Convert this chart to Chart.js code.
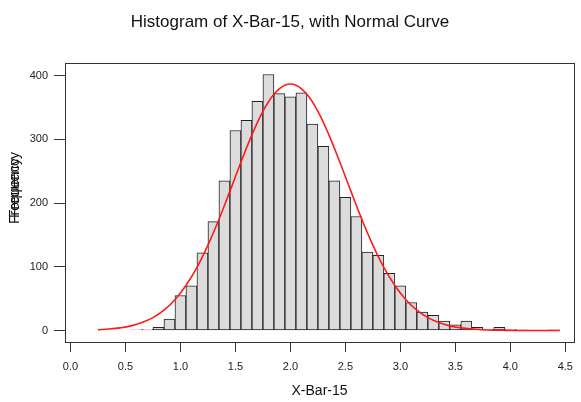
<!DOCTYPE html>
<html>
<head>
<meta charset="utf-8">
<script src="https://cdn.jsdelivr.net/npm/chart.js@4/dist/chart.umd.min.js"></script>
<style>
  html, body { margin: 0; padding: 0; background: #fff; }
  #wrap { width: 581px; height: 402px; }
</style>
</head>
<body>
<div id="wrap"><canvas id="hist"></canvas></div>
<script>
// bin centres (width 0.1) and counts
const binMids = [0.3, 0.4, 0.5, 0.6, 0.7, 0.8, 0.9, 1.0, 1.1, 1.2, 1.3, 1.4, 1.5, 1.6,
  1.7, 1.8, 1.9, 2.0, 2.1, 2.2, 2.3, 2.4, 2.5, 2.6, 2.7, 2.8, 2.9, 3.0, 3.1, 3.2,
  3.3, 3.4, 3.5, 3.6, 3.7, 3.8, 3.9, 4.0, 4.1, 4.2, 4.3, 4.4];
const counts = [0, 0, 0, 1, 2, 5, 18, 55, 70, 122, 171, 235, 314, 330,
  360, 402, 372, 367, 373, 324, 289, 235, 209, 179, 123, 118, 90, 70, 44, 29,
  24, 15, 9, 15, 5, 2, 5, 2, 1, 0, 0, 1];

// fitted normal curve, scaled to counts
const curveX = [0.25, 0.35, 0.45, 0.55, 0.65, 0.75, 0.85, 0.95, 1.05, 1.15, 1.25,
  1.35, 1.45, 1.55, 1.65, 1.75, 1.85, 1.95, 2.05, 2.15, 2.25, 2.35, 2.45, 2.55,
  2.65, 2.75, 2.85, 2.95, 3.05, 3.15, 3.25, 3.35, 3.45, 3.55, 3.65, 3.75, 3.85,
  3.95, 4.05, 4.15, 4.25, 4.35, 4.45];
const curveY = [1.2, 2.3, 4.2, 7.3, 12.5, 20.3, 32.0, 48.4, 70.6, 99.1, 134.1,
  174.5, 218.8, 264.2, 307.2, 344.0, 370.9, 385.2, 385.2, 370.9, 344.0, 307.2, 264.2, 218.8,
  174.5, 134.1, 99.1, 70.6, 48.4, 32.0, 20.3, 12.5, 7.3, 4.2, 2.3, 1.2, 0.6,
  0.3, 0.1, 0.1, 0, 0, 0];

const xTicks = [0, 0.5, 1, 1.5, 2, 2.5, 3, 3.5, 4, 4.5];
const yTicks = [0, 100, 200, 300, 400];

const FONT = "'Liberation Sans', Arial, sans-serif";

const frameAndLabels = {
  id: "frameAndLabels",
  afterDraw(chart) {
    const { ctx, chartArea: a } = chart;
    ctx.save();
    ctx.strokeStyle = "#333";
    ctx.lineWidth = 1;
    ctx.strokeRect(Math.round(a.left) + 0.5, Math.round(a.top) + 0.5,
      Math.round(a.right - a.left), Math.round(a.bottom - a.top));

    ctx.fillStyle = "#111";
    ctx.textAlign = "center";
    ctx.textBaseline = "alphabetic";
    ctx.font = "17px " + FONT;
    ctx.fillText("Histogram of X-Bar-15, with Normal Curve", 290, 27);

    ctx.font = "14px " + FONT;
    ctx.fillText("X-Bar-15", (a.left + a.right) / 2, 395);

    // y label is printed twice, slightly shifted
    ctx.translate(19, 188);
    ctx.rotate(-Math.PI / 2);
    ctx.fillText("Frequency", -3, 0);
    ctx.fillText("Frequency", 3, 0);
    ctx.restore();
  }
};

new Chart(document.getElementById("hist"), {
  type: "bar",
  data: {
    datasets: [{
      type: "line",
      label: "Normal",
      data: curveX.map((x, i) => ({ x: x, y: curveY[i] })),
      borderColor: "#ff1a1a",
      borderWidth: 1.6,
      pointRadius: 0,
      tension: 0.4,
      fill: false
    }, {
      label: "Frequency",
      data: binMids.map((x, i) => ({ x: x, y: counts[i] })),
      backgroundColor: "#dcdcdc",
      borderColor: "#222",
      borderWidth: 1,
      borderSkipped: false,
      barPercentage: 1,
      categoryPercentage: 1,
      grouped: false
    }]
  },
  options: {
    responsive: true,
    maintainAspectRatio: false,
    animation: false,
    layout: { padding: { top: 63, right: 4, left: 0, bottom: 0 } },
    plugins: {
      legend: { display: false },
      tooltip: { enabled: false },
      title: { display: false }
    },
    scales: {
      x: {
        type: "linear",
        min: -0.05,
        max: 4.58,
        offset: false,
        afterBuildTicks: s => { s.ticks = xTicks.map(v => ({ value: v })); },
        afterFit: s => { s.height = 60; },
        grid: { offset: false, drawOnChartArea: false, drawTicks: true, tickLength: 10, color: "#333" },
        border: { display: true, color: "#333" },
        ticks: {
          padding: 8,
          color: "#222",
          font: { family: FONT, size: 11 },
          maxRotation: 0,
          callback: v => v.toFixed(1)
        }
      },
      y: {
        type: "linear",
        min: -18,
        max: 420,
        afterBuildTicks: s => { s.ticks = yTicks.map(v => ({ value: v })); },
        afterFit: s => { s.width = 65; },
        grid: { drawOnChartArea: false, drawTicks: true, tickLength: 11, color: "#333" },
        border: { display: true, color: "#333" },
        ticks: {
          padding: 6,
          color: "#222",
          font: { family: FONT, size: 11 }
        }
      }
    }
  },
  plugins: [frameAndLabels]
});
</script>
</body>
</html>
